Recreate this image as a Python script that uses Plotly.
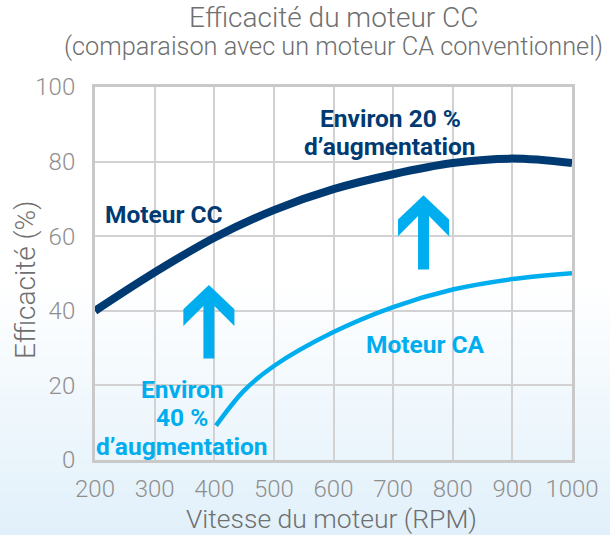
import base64
import struct
import zlib

import plotly.graph_objects as go

# ---- data ----
speed_dc = [200, 300, 400, 500, 600, 700, 800, 900, 1000]
eff_dc = [40, 50.3, 59.6, 67.0, 72.6, 76.6, 79.6, 80.8, 79.6]

speed_ac = [403, 450, 500, 600, 700, 800, 900, 1000]
eff_ac = [9.2, 18.6, 25.2, 34.3, 41.0, 45.7, 48.5, 50.1]

x_ticks = [200, 300, 400, 500, 600, 700, 800, 900, 1000]
y_ticks = [0, 20, 40, 60, 80, 100]

arrow_x = [391, 751]
arrow_base = [27.2, 51.1]
arrow_tip = [46.9, 71.0]

title_main = "Efficacité du moteur CC"
title_sub = "(comparaison avec un moteur CA conventionnel)"
x_title = "Vitesse du moteur (RPM)"
y_title = "Efficacité (%)"

label_text = ["Moteur CC", "Environ 20 %<br>d’augmentation", "Moteur CA",
              "Environ<br>40 %<br>d’augmentation"]
label_x = [316, 695, 754, 346]
label_y = [65.9, 87.8, 31.0, 11.3]
label_is_dc = [True, True, False, False]

DC_COLOR = "#003a72"
AC_COLOR = "#00aeef"
GRID = "#d2d2d2"
BORDER = "#c9c9c9"
TICK_COLOR = "#8f8f8f"
TITLE_COLOR = "#6f6f6f"

W, H = 610, 535
ML, MR, MT, MB = 95, 38, 87, 75
PW, PH = W - ML - MR, H - MT - MB


def gradient_png(height):
    rows = b""
    for yy in range(height):
        t = (yy - 280) / (535 - 280)
        t = max(0.0, min(1.0, t))
        r = round(255 + (225 - 255) * t)
        g = round(255 + (240 - 255) * t)
        b = round(255 + (250 - 255) * t)
        rows += b"\x00" + bytes([r, g, b])

    def chunk(tag, data):
        c = tag + data
        return struct.pack(">I", len(data)) + c + struct.pack(">I", zlib.crc32(c) & 0xFFFFFFFF)

    png = b"\x89PNG\r\n\x1a\n"
    png += chunk(b"IHDR", struct.pack(">IIBBBBB", 1, height, 8, 2, 0, 0, 0))
    png += chunk(b"IDAT", zlib.compress(rows))
    png += chunk(b"IEND", b"")
    return "data:image/png;base64," + base64.b64encode(png).decode()


fig = go.Figure()

fig.add_trace(go.Scatter(
    x=speed_dc, y=eff_dc, mode="lines",
    line=dict(color=DC_COLOR, width=8, shape="spline", smoothing=1.0),
    hoverinfo="skip", showlegend=False,
))
fig.add_trace(go.Scatter(
    x=speed_ac, y=eff_ac, mode="lines",
    line=dict(color=AC_COLOR, width=4.5, shape="spline", smoothing=1.0),
    hoverinfo="skip", showlegend=False,
))

# block arrows with chevron heads
HW, SW = 42.8, 9.2          # head half-width, shaft half-width (x units)
D1, D2, D3 = 6.5, 11.0, 5.6  # wing top, wing bottom, junction drop (y units)
for ax_, b, t in zip(arrow_x, arrow_base, arrow_tip):
    pts = [
        (ax_, t),
        (ax_ + HW, t - D1),
        (ax_ + HW, t - D2),
        (ax_ + SW, t - D3),
        (ax_ + SW, b),
        (ax_ - SW, b),
        (ax_ - SW, t - D3),
        (ax_ - HW, t - D2),
        (ax_ - HW, t - D1),
    ]
    path = "M " + " L ".join(f"{px},{py}" for px, py in pts) + " Z"
    fig.add_shape(type="path", path=path, xref="x", yref="y",
                  fillcolor=AC_COLOR, line=dict(width=0), layer="above")

LINE_H = 28.3
for txt, lx, ly, is_dc in zip(label_text, label_x, label_y, label_is_dc):
    col = DC_COLOR if is_dc else AC_COLOR
    lines = txt.split("<br>")
    n = len(lines)
    for i, ln in enumerate(lines):
        fig.add_annotation(
            x=lx, y=ly, xref="x", yref="y", text=ln, showarrow=False,
            yshift=-(i - (n - 1) / 2) * LINE_H,
            font=dict(family="Roboto", size=24.5, color=col, weight=700),
            xanchor="center", yanchor="middle",
        )

fig.add_annotation(
    x=0.5, y=1 + (MT - 17) / PH, xref="paper", yref="paper",
    text=title_main, showarrow=False, xanchor="center", yanchor="middle",
    font=dict(family="Roboto", size=28, color=TITLE_COLOR, weight=300),
)
fig.add_annotation(
    x=0.5, y=1 + (MT - 47) / PH, xref="paper", yref="paper",
    text=title_sub, showarrow=False, xanchor="center", yanchor="middle",
    font=dict(family="Roboto", size=25.3, color=TITLE_COLOR, weight=300),
)
# axis titles
fig.add_annotation(
    x=(25 - ML) / PW, y=(H - MB - 280) / PH, xref="paper", yref="paper",
    text=y_title, showarrow=False, textangle=-90,
    xanchor="center", yanchor="middle",
    font=dict(family="Roboto", size=28, color=TITLE_COLOR, weight=300),
)
fig.add_annotation(
    x=(331 - ML) / PW, y=(H - MB - 518) / PH, xref="paper", yref="paper",
    text=x_title, showarrow=False, borderpad=0,
    xanchor="center", yanchor="middle",
    font=dict(family="Roboto", size=26.5, color=TITLE_COLOR, weight=300),
)

fig.add_layout_image(
    source=gradient_png(H), xref="paper", yref="paper",
    x=-ML / PW, y=1 + MT / PH, sizex=W / PW, sizey=H / PH,
    xanchor="left", yanchor="top", sizing="stretch", layer="below",
)

fig.update_xaxes(
    range=[200, 1000], tickvals=x_ticks, ticktext=[str(v) for v in x_ticks],
    showgrid=True, gridcolor=GRID, gridwidth=1.5, zeroline=False,
    showline=True, mirror=True, linecolor=BORDER, linewidth=3,
    ticks="", ticklabelstandoff=5, automargin=False,
    tickfont=dict(family="Roboto", size=24, color=TICK_COLOR, weight=300),
    fixedrange=True,
)
fig.update_yaxes(
    range=[0, 100], tickvals=y_ticks, ticktext=[str(v) for v in y_ticks],
    showgrid=True, gridcolor=GRID, gridwidth=1.5, zeroline=False,
    showline=True, mirror=True, linecolor=BORDER, linewidth=3,
    ticks="", ticklabelstandoff=12, automargin=False,
    tickfont=dict(family="Roboto", size=24, color=TICK_COLOR, weight=300),
    fixedrange=True,
)

fig.update_layout(
    width=W, height=H,
    margin=dict(l=ML, r=MR, t=MT, b=MB, pad=0, autoexpand=False),
    paper_bgcolor="white", plot_bgcolor="rgba(0,0,0,0)",
    showlegend=False,
)

fig.write_html(
    "out.html",
    config={"displayModeBar": False},
    post_script="document.body.style.margin='0';document.body.style.overflow='hidden';",
)
